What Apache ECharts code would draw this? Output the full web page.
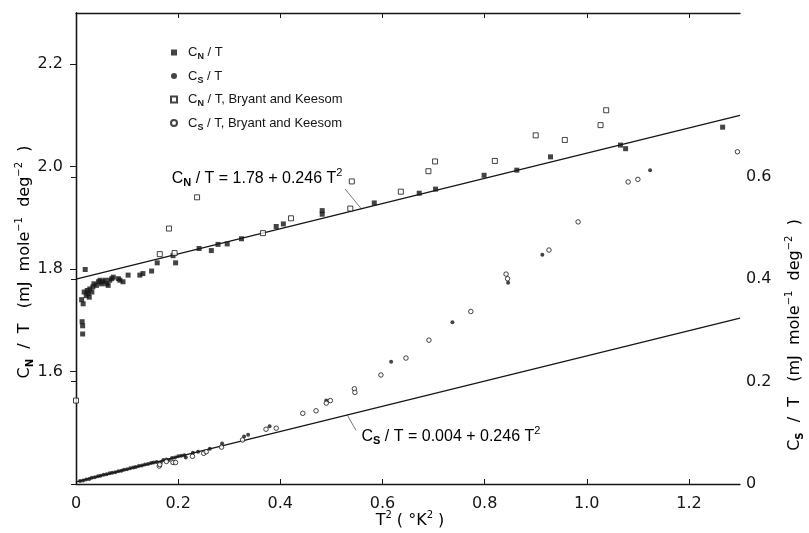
<!DOCTYPE html>
<html>
<head>
<meta charset="utf-8">
<script src="https://cdn.jsdelivr.net/npm/echarts@6/dist/echarts.min.js"></script>
<style>
  html, body { margin: 0; padding: 0; background: #fff; }
  #chart { width: 809px; height: 533px; }
</style>
</head>
<body>
<div id="chart"></div>
<script>
// C_N/T (filled squares), x = T^2
var cnX = [0.012,0.013,0.013,0.018,0.011,0.014,0.016,0.020,0.022,0.024,0.026,0.027,0.031,0.033,
           0.035,0.040,0.044,0.047,0.050,0.053,0.057,0.060,0.063,0.066,0.070,0.073,0.083,0.086,
           0.092,0.102,0.125,0.131,0.148,0.159,0.195,0.190,0.241,0.265,0.278,0.296,0.324,0.392,
           0.406,0.482,0.482,0.584,0.672,0.704,0.799,0.863,0.929,1.066,1.076,1.266];
var cnY = [1.697,1.689,1.673,1.799,1.740,1.732,1.755,1.748,1.758,1.752,1.745,1.761,1.755,1.765,
           1.771,1.768,1.775,1.778,1.771,1.775,1.778,1.771,1.768,1.778,1.781,1.784,1.781,1.778,
           1.775,1.788,1.788,1.791,1.796,1.812,1.812,1.826,1.840,1.836,1.848,1.849,1.859,1.883,
           1.888,1.914,1.907,1.929,1.948,1.956,1.983,1.993,2.019,2.042,2.035,2.077];

// C_S/T (filled circles)
var csX = [0.008,0.014,0.020,0.026,0.031,0.037,0.043,0.048,0.054,0.060,0.066,0.071,0.077,0.083,
           0.089,0.094,0.100,0.106,0.112,0.117,0.123,0.129,0.135,0.141,0.147,0.152,0.158,0.166,
           0.171,0.177,0.182,0.188,0.194,0.200,0.206,0.212,0.215,0.229,0.239,0.262,0.286,0.329,
           0.337,0.379,0.490,0.617,0.737,0.846,0.913,1.124];
var csY = [0.006,0.007,0.009,0.010,0.012,0.013,0.015,0.016,0.018,0.019,0.021,0.022,0.023,0.025,
           0.026,0.028,0.029,0.031,0.032,0.033,0.035,0.036,0.038,0.039,0.041,0.042,0.043,0.042,
           0.047,0.048,0.047,0.051,0.052,0.054,0.055,0.056,0.052,0.061,0.063,0.069,0.079,0.093,
           0.096,0.113,0.163,0.239,0.316,0.393,0.448,0.613];

// Bryant and Keesom, C_N/T (open squares)
var bkCnX = [0.000,0.164,0.182,0.193,0.237,0.366,0.421,0.537,0.540,0.636,0.690,0.703,0.820,
             0.900,0.957,1.027,1.038];
var bkCnY = [1.543,1.829,1.879,1.831,1.940,1.870,1.899,1.918,1.971,1.951,1.991,2.010,2.011,
             2.061,2.052,2.081,2.110];

// Bryant and Keesom, C_S/T (open circles)
var bkCsX = [0.163,0.164,0.177,0.190,0.195,0.228,0.250,0.255,0.285,0.326,0.372,0.392,0.444,
             0.470,0.490,0.498,0.545,0.546,0.597,0.646,0.691,0.773,0.842,0.845,0.926,0.983,
             1.081,1.100,1.295];
var bkCsY = [0.035,0.038,0.044,0.042,0.042,0.054,0.060,0.063,0.072,0.086,0.107,0.109,0.138,
             0.143,0.158,0.163,0.186,0.179,0.213,0.246,0.281,0.337,0.410,0.401,0.457,0.512,
             0.590,0.595,0.649];

// fitted lines, end points
var fitX = [0, 1.3];
var cnFit = [1.78, 2.0998];
var csFit = [0.004, 0.3238];

var xTicks = [0, 0.2, 0.4, 0.6, 0.8, 1.0, 1.2];
var leftTicks = [1.6, 1.8, 2.0, 2.2];
var rightTicks = [0, 0.2, 0.4, 0.6];

function zip(xs, ys) {
    return xs.map(function (x, i) { return [x, ys[i]]; });
}
function fmt(v) {
    return v === 0 ? '0' : v.toFixed(1);
}

var ink = '#151515';
var font = 'DejaVu Sans';
var narrow = 'Liberation Sans';
function richSet(f, size, small) {
    return {
        m: { fontFamily: f, fontSize: size, color: ink, lineHeight: size + 5 },
        sub: { fontFamily: f, fontSize: small, fontWeight: 'bold', color: ink, verticalAlign: 'bottom', lineHeight: small + 3 },
        sup: { fontFamily: f, fontSize: small, color: ink, verticalAlign: 'top', lineHeight: small + 3 }
    };
}
var legendRich = richSet(narrow, 13, 9);
var noteRich = richSet(narrow, 16, 11);
var titleRich = richSet(font, 16, 10);

var chart = echarts.init(document.getElementById('chart'));

var axisLine = { lineStyle: { color: ink, width: 1.3 } };
var tickStyle = { color: ink, width: 1 };

chart.setOption({
    backgroundColor: '#fff',
    animation: false,
    grid: { left: 76, right: 69, top: 13, bottom: 49, containLabel: false, outerBoundsMode: 'none' },
    legend: {
        orient: 'vertical',
        left: 165,
        top: 41,
        itemWidth: 6,
        itemHeight: 6,
        itemGap: 8,
        selectedMode: false,
        data: ['CN/T', 'CS/T', 'CN/T, Bryant and Keesom', 'CS/T, Bryant and Keesom'],
        formatter: function (name) {
            return '{m|C}{sub|' + name.charAt(1) + '}{m|' + name.slice(2).replace('/', ' / ') + '}';
        },
        textStyle: { padding: [0, 0, 0, 6], rich: legendRich }
    },
    xAxis: [{
        type: 'value', min: 0, max: 1.3, position: 'bottom',
        axisLine: axisLine,
        axisTick: { inside: true, length: 5, lineStyle: tickStyle, customValues: xTicks.slice(1) },
        axisLabel: { customValues: xTicks, formatter: fmt, color: ink, fontFamily: font, fontSize: 16, margin: 12 },
        splitLine: { show: false }
    }, {
        type: 'value', min: 0, max: 1.3, position: 'top',
        axisLine: axisLine,
        axisTick: { inside: true, length: 5, lineStyle: tickStyle, customValues: xTicks.slice(1) },
        axisLabel: { show: false },
        splitLine: { show: false }
    }],
    yAxis: [{
        type: 'value', min: 1.38, max: 2.30, position: 'left',
        axisLine: axisLine,
        axisTick: { inside: false, length: 6, lineStyle: tickStyle, customValues: leftTicks },
        axisLabel: { customValues: leftTicks, formatter: fmt, color: ink, fontFamily: font, fontSize: 16, margin: 13 },
        splitLine: { show: false }
    }, {
        type: 'value', min: 0, max: 0.92, position: 'right',
        axisLine: axisLine,
        axisTick: { inside: true, length: 5, lineStyle: tickStyle, customValues: rightTicks },
        axisLabel: { customValues: rightTicks, formatter: fmt, color: ink, fontFamily: font, fontSize: 16, margin: 6 },
        splitLine: { show: false }
    }],
    series: [{
        name: 'CN/T', type: 'scatter', yAxisIndex: 0,
        symbol: 'rect', symbolSize: 5,
        itemStyle: { color: ink },
        data: zip(cnX, cnY)
    }, {
        name: 'CS/T', type: 'scatter', yAxisIndex: 1,
        symbol: 'circle', symbolSize: 4,
        itemStyle: { color: ink },
        data: zip(csX, csY)
    }, {
        name: 'CN/T, Bryant and Keesom', type: 'scatter', yAxisIndex: 0,
        symbol: 'rect', symbolSize: 5,
        itemStyle: { color: '#fff', borderColor: ink, borderWidth: 1 },
        data: zip(bkCnX, bkCnY)
    }, {
        name: 'CS/T, Bryant and Keesom', type: 'scatter', yAxisIndex: 1,
        symbol: 'circle', symbolSize: 4.5,
        itemStyle: { color: '#fff', borderColor: ink, borderWidth: 1 },
        data: zip(bkCsX, bkCsY)
    }, {
        name: 'CN fit', type: 'line', yAxisIndex: 0,
        symbol: 'none', lineStyle: { color: ink, width: 1.3 },
        data: zip(fitX, cnFit), z: 1
    }, {
        name: 'CS fit', type: 'line', yAxisIndex: 1,
        symbol: 'none', lineStyle: { color: ink, width: 1.3 },
        data: zip(fitX, csFit), z: 1
    }]
});

// annotations anchored in data space
function px(x, y, axis) {
    return chart.convertToPixel({ xAxisIndex: 0, yAxisIndex: axis }, [x, y]);
}
var cnText = px(0.1875, 1.977, 0);
var cnLead = [px(0.527, 1.956, 0), px(0.559, 1.917, 0)];
var csText = px(0.559, 0.093, 1);
var csLead = [px(0.531, 0.135, 1), px(0.548, 0.105, 1)];

chart.setOption({
    graphic: [{
        type: 'text', x: cnText[0], y: cnText[1],
        style: { text: '{m|C}{sub|N}{m| / T = 1.78 + 0.246 T}{sup|2}', rich: noteRich, align: 'left', verticalAlign: 'middle' }
    }, {
        type: 'polyline', shape: { points: cnLead }, style: { stroke: '#555', lineWidth: 0.8, fill: null }
    }, {
        type: 'text', x: csText[0], y: csText[1],
        style: { text: '{m|C}{sub|S}{m| / T = 0.004 + 0.246 T}{sup|2}', rich: noteRich, align: 'left', verticalAlign: 'middle' }
    }, {
        type: 'polyline', shape: { points: csLead }, style: { stroke: '#555', lineWidth: 0.8, fill: null }
    }, {
        type: 'text', x: 25, y: 262, rotation: Math.PI / 2,
        style: { text: '{m|C}{sub|N}{m|  /  T   (mJ  mole}{sup|\u22121}{m|  deg}{sup|\u22122}{m|  )}', rich: titleRich, align: 'center', verticalAlign: 'middle' }
    }, {
        type: 'text', x: 795, y: 335, rotation: Math.PI / 2,
        style: { text: '{m|C}{sub|S}{m|  /  T   (mJ  mole}{sup|\u22121}{m|  deg}{sup|\u22122}{m|  )}', rich: titleRich, align: 'center', verticalAlign: 'middle' }
    }, {
        type: 'text', x: 410, y: 521,
        style: { text: '{m|T}{sup|2}{m| ( °K}{sup|2}{m| )}', rich: titleRich, align: 'center', verticalAlign: 'middle' }
    }]
});
</script>
</body>
</html>
